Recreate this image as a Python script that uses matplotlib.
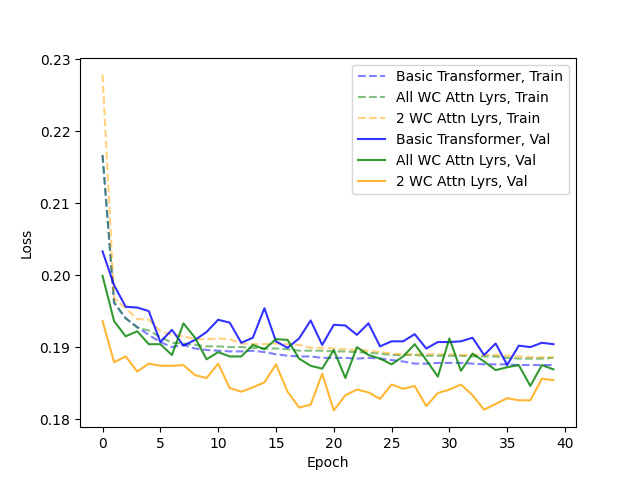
import numpy as np
import matplotlib
matplotlib.use("Agg")
import matplotlib.pyplot as plt

epochs = np.arange(40)

basic_train = [0.2167, 0.1961, 0.1940, 0.1928, 0.1917, 0.1907, 0.1900, 0.1903, 0.1898, 0.1896,
               0.1895, 0.1894, 0.1894, 0.1895, 0.1893, 0.1890, 0.1888, 0.1887, 0.1887, 0.1885,
               0.1885, 0.1885, 0.1884, 0.1885, 0.1884, 0.1882, 0.1880, 0.1877, 0.1877, 0.1878,
               0.1878, 0.1878, 0.1877, 0.1876, 0.1876, 0.1876, 0.1875, 0.1875, 0.1875, 0.1875]
allwc_train = [0.2167, 0.1963, 0.1940, 0.1927, 0.1923, 0.1914, 0.1906, 0.1905, 0.1903, 0.1901,
               0.1901, 0.1900, 0.1900, 0.1899, 0.1898, 0.1898, 0.1897, 0.1895, 0.1895, 0.1895,
               0.1894, 0.1894, 0.1893, 0.1892, 0.1891, 0.1889, 0.1889, 0.1889, 0.1888, 0.1888,
               0.1888, 0.1888, 0.1887, 0.1887, 0.1887, 0.1885, 0.1884, 0.1884, 0.1884, 0.1885]
wc2_train = [0.2279, 0.1968, 0.1954, 0.1939, 0.1938, 0.1922, 0.1917, 0.1915, 0.1911, 0.1911,
             0.1912, 0.1911, 0.1905, 0.1904, 0.1904, 0.1905, 0.1904, 0.1903, 0.1899, 0.1899,
             0.1898, 0.1897, 0.1896, 0.1895, 0.1893, 0.1891, 0.1890, 0.1890, 0.1890, 0.1890,
             0.1890, 0.1889, 0.1889, 0.1889, 0.1889, 0.1888, 0.1887, 0.1886, 0.1886, 0.1886]

basic_val = [0.2033, 0.1986, 0.1956, 0.1955, 0.1950, 0.1907, 0.1924, 0.1902, 0.1910, 0.1921,
             0.1938, 0.1934, 0.1906, 0.1913, 0.1954, 0.1908, 0.1899, 0.1912, 0.1937, 0.1903,
             0.1931, 0.1930, 0.1917, 0.1933, 0.1901, 0.1908, 0.1908, 0.1918, 0.1898, 0.1907,
             0.1907, 0.1908, 0.1913, 0.1889, 0.1905, 0.1875, 0.1902, 0.1900, 0.1906, 0.1904]
allwc_val = [0.1999, 0.1936, 0.1915, 0.1922, 0.1904, 0.1904, 0.1889, 0.1933, 0.1913, 0.1883,
             0.1893, 0.1887, 0.1887, 0.1903, 0.1897, 0.1911, 0.1910, 0.1884, 0.1874, 0.1870,
             0.1896, 0.1857, 0.1900, 0.1889, 0.1884, 0.1876, 0.1887, 0.1904, 0.1882, 0.1859,
             0.1912, 0.1867, 0.1891, 0.1880, 0.1868, 0.1872, 0.1875, 0.1846, 0.1875, 0.1869]
wc2_val = [0.1936, 0.1879, 0.1887, 0.1866, 0.1877, 0.1874, 0.1874, 0.1875, 0.1861, 0.1857,
           0.1877, 0.1843, 0.1838, 0.1844, 0.1851, 0.1876, 0.1838, 0.1816, 0.1820, 0.1863,
           0.1812, 0.1833, 0.1841, 0.1837, 0.1828, 0.1848, 0.1842, 0.1846, 0.1818, 0.1836,
           0.1841, 0.1848, 0.1833, 0.1813, 0.1821, 0.1829, 0.1826, 0.1826, 0.1856, 0.1854]

fig, ax = plt.subplots(figsize=(6.4, 4.8), dpi=100)
ax.plot(epochs, basic_train, "--", color="blue", alpha=0.5, label="Basic Transformer, Train")
ax.plot(epochs, allwc_train, "--", color="green", alpha=0.5, label="All WC Attn Lyrs, Train")
ax.plot(epochs, wc2_train, "--", color="orange", alpha=0.5, label="2 WC Attn Lyrs, Train")
ax.plot(epochs, basic_val, color="blue", alpha=0.8, label="Basic Transformer, Val")
ax.plot(epochs, allwc_val, color="green", alpha=0.8, label="All WC Attn Lyrs, Val")
ax.plot(epochs, wc2_val, color="orange", alpha=0.8, label="2 WC Attn Lyrs, Val")
ax.set_xlabel("Epoch")
ax.set_ylabel("Loss")
ax.legend(loc="upper right")
fig.savefig("out.png")
